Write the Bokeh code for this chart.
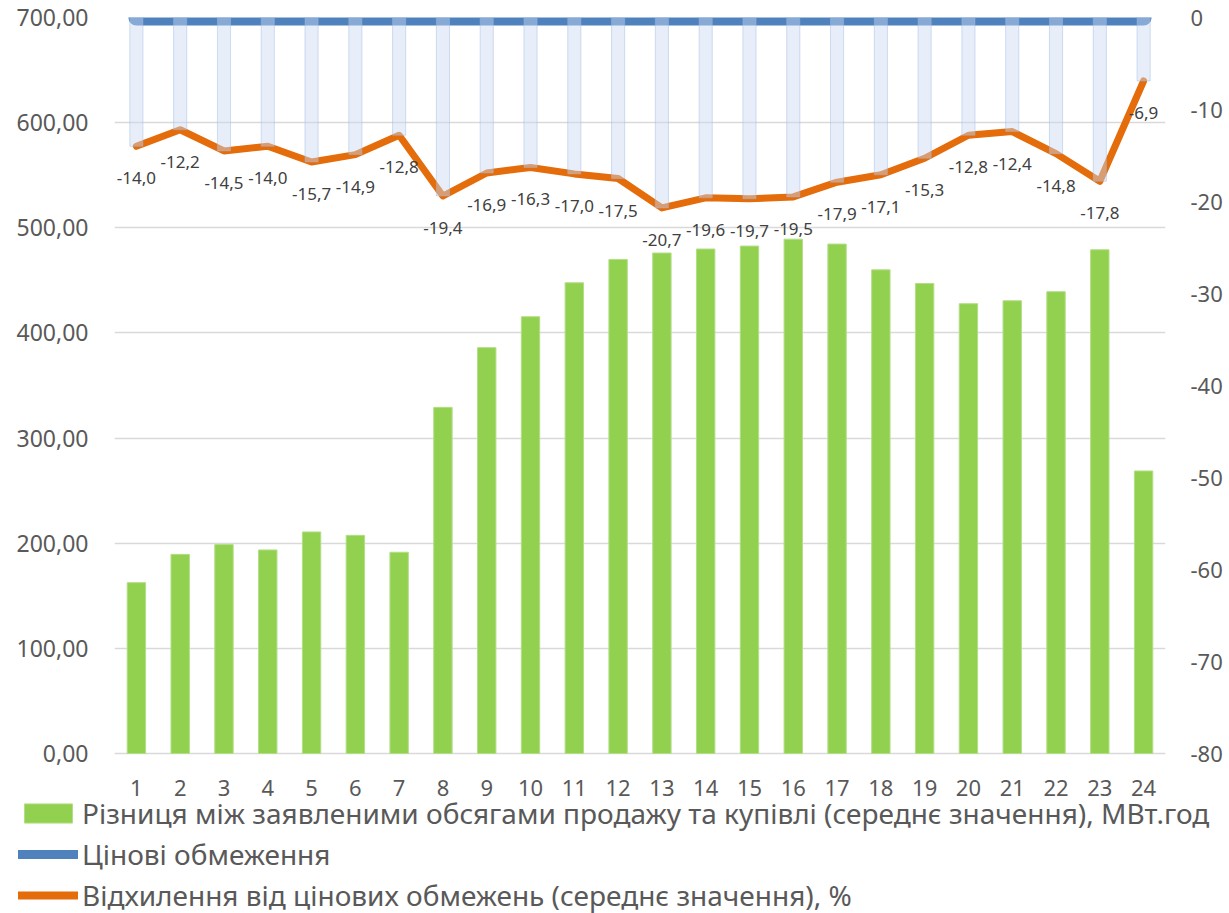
from bokeh.plotting import figure
from bokeh.layouts import column
from bokeh.models import (ColumnDataSource, FactorRange, Range1d, LinearAxis,
                          FixedTicker, Legend, LegendItem)
from bokeh.core.properties import value
from bokeh.embed import file_html
from bokeh.resources import INLINE

hours = ["1", "2", "3", "4", "5", "6", "7", "8", "9", "10", "11", "12",
         "13", "14", "15", "16", "17", "18", "19", "20", "21", "22", "23", "24"]
volume_diff = [162.5, 189.4, 198.7, 193.6, 210.7, 207.5, 191.4, 329.2, 386.0, 415.4,
               447.7, 469.9, 476.0, 479.8, 482.6, 489.2, 484.5, 460.0, 447.0, 427.8,
               430.6, 439.2, 479.1, 268.7]
deviation = [-14.0, -12.2, -14.5, -14.0, -15.7, -14.9, -12.8, -19.4, -16.9, -16.3,
             -17.0, -17.5, -20.7, -19.6, -19.7, -19.5, -17.9, -17.1, -15.3, -12.8,
             -12.4, -14.8, -17.8, -6.9]
price_limits = [0, 0, 0, 0, 0, 0, 0, 0, 0, 0, 0, 0,
                0, 0, 0, 0, 0, 0, 0, 0, 0, 0, 0, 0]
left_ticks = [0, 100, 200, 300, 400, 500, 600, 700]
right_ticks = [-80, -70, -60, -50, -40, -30, -20, -10, 0]

series_names = [
    "Різниця між заявленими обсягами продажу та купівлі (середнє значення), МВт.год",
    "Цінові обмеження",
    "Відхилення від цінових обмежень (середнє значення), %",
]

FONT = "Noto Sans"
GREY = "#595959"

# page geometry (pixels)
W, H = 1229, 913
LEFT, RIGHT = 114, 1165                  # frame left / right edge
TOP, ZERO_Y, SPLIT = 17, 753, 770        # frame top, y of value 0, bottom of chart figure
PLOT_H = ZERO_Y - TOP
extra = SPLIT - ZERO_Y
left_lo = -extra * 700 / PLOT_H
right_lo = -80 - extra * 80 / PLOT_H
cw = (RIGHT - LEFT) / len(hours)         # width of one hour slot

src = ColumnDataSource(dict(
    hour=hours, hnum=[float(h) for h in hours], vol=volume_diff, dev=deviation,
    lim=price_limits, lbl=[("%.1f" % v).replace(".", ",") for v in deviation],
))

p = figure(width=W, height=SPLIT, x_range=FactorRange(factors=hours, range_padding=0),
           y_range=Range1d(left_lo, 700), output_backend="svg", toolbar_location=None,
           x_axis_location=None,
           min_border_left=LEFT, min_border_right=W - RIGHT, min_border_top=TOP,
           min_border_bottom=0)
p.frame_align = False
p.extra_y_ranges = {"dev": Range1d(right_lo, 0)}
p.outline_line_color = None
p.background_fill_color = "white"
p.border_fill_color = "white"

# axes
p.yaxis.ticker = FixedTicker(ticks=left_ticks)
p.yaxis.major_label_overrides = {t: ("%.2f" % t).replace(".", ",") for t in left_ticks}
ra = LinearAxis(y_range_name="dev", ticker=FixedTicker(ticks=right_ticks))
ra.major_label_overrides = {t: str(t) for t in right_ticks}
p.add_layout(ra, "right")
for ax in p.yaxis:
    ax.axis_line_color = None
    ax.major_tick_line_color = None
    ax.minor_tick_line_color = None
    ax.major_tick_out = 0
    ax.major_tick_in = 0
    ax.major_label_text_font = FONT
    ax.major_label_text_color = GREY
p.yaxis[0].major_label_text_font_size = "23px"
p.yaxis[0].major_label_standoff = 26
ra.major_label_text_font_size = "22px"
ra.major_label_standoff = 25

p.xgrid.grid_line_color = None
p.ygrid.ticker = FixedTicker(ticks=left_ticks)
p.ygrid.grid_line_color = "#D9D9D9"
p.ygrid.grid_line_width = 1.6

# glyphs
bars = p.vbar(x="hour", top="vol", width=0.42, source=src,
              fill_color="#92D050", line_color="#B3DE86", line_width=1)
blue = p.line(x="hour", y="lim", source=src, y_range_name="dev",
              line_width=16, line_color="#4F81BD", line_cap="round")
orange = p.line(x="hour", y="dev", source=src, y_range_name="dev",
                line_width=7, line_color="#E46C0A", line_join="round", line_cap="round")
p.vbar(x="hour", top=0, bottom="dev", width=0.3, source=src, y_range_name="dev",
       fill_color="#C9DAF2", fill_alpha=0.45, line_color="#9DB8E2", line_alpha=0.45, line_width=1)
p.text(x="hour", y="dev", text="lbl", source=src, y_range_name="dev",
       y_offset=32, text_align="center", text_baseline="middle",
       text_font=value(FONT), text_font_size="17px", text_color="#404040")

# lower figure: hour labels + legend; its x scale continues the chart's hour slots
QH = H - SPLIT
LABEL_Y = 787                              # pixel row of the hour labels
x_lo = 0.5 - LEFT / cw
x_hi = 0.5 + (W - LEFT) / cw
q = figure(width=W, height=QH, x_range=Range1d(x_lo, x_hi),
           y_range=Range1d(LABEL_Y - H, LABEL_Y - SPLIT),
           output_backend="svg", toolbar_location=None,
           x_axis_location=None, y_axis_location=None,
           min_border_left=0, min_border_right=0, min_border_top=0, min_border_bottom=0)
q.frame_align = False
q.outline_line_color = None
q.grid.grid_line_color = None
q.text(x="hnum", y=0, text="hour", source=src, text_align="center", text_baseline="middle",
       text_font=value(FONT), text_font_size="22px", text_color=GREY)

# legend proxy glyphs (placed outside the visible ranges, only styled for the legend)
g_leg = q.vbar(x=[-50], top=[-500], bottom=[-501], width=0.5,
               fill_color="#92D050", line_color="#B3DE86", line_width=1)
b_leg = q.line(x=[-50, -49], y=[-500, -500], line_width=9, line_color="#4F81BD", line_cap="round")
o_leg = q.line(x=[-50, -49], y=[-500, -500], line_width=8, line_color="#E46C0A", line_cap="round")

legend = Legend(items=[
    LegendItem(label=series_names[0], renderers=[g_leg]),
    LegendItem(label=series_names[1], renderers=[b_leg]),
    LegendItem(label=series_names[2], renderers=[o_leg]),
], location=(18, -1), orientation="vertical",
    glyph_width=60, glyph_height=24, label_height=24, label_standoff=4,
    spacing=3, padding=0, margin=0, border_line_color=None,
    background_fill_alpha=0, label_text_font=FONT, label_text_font_size="28px",
    label_text_color=GREY)
q.add_layout(legend, "center")

layout = column(p, q, spacing=0)
open("out.html", "w").write(file_html(layout, INLINE))
